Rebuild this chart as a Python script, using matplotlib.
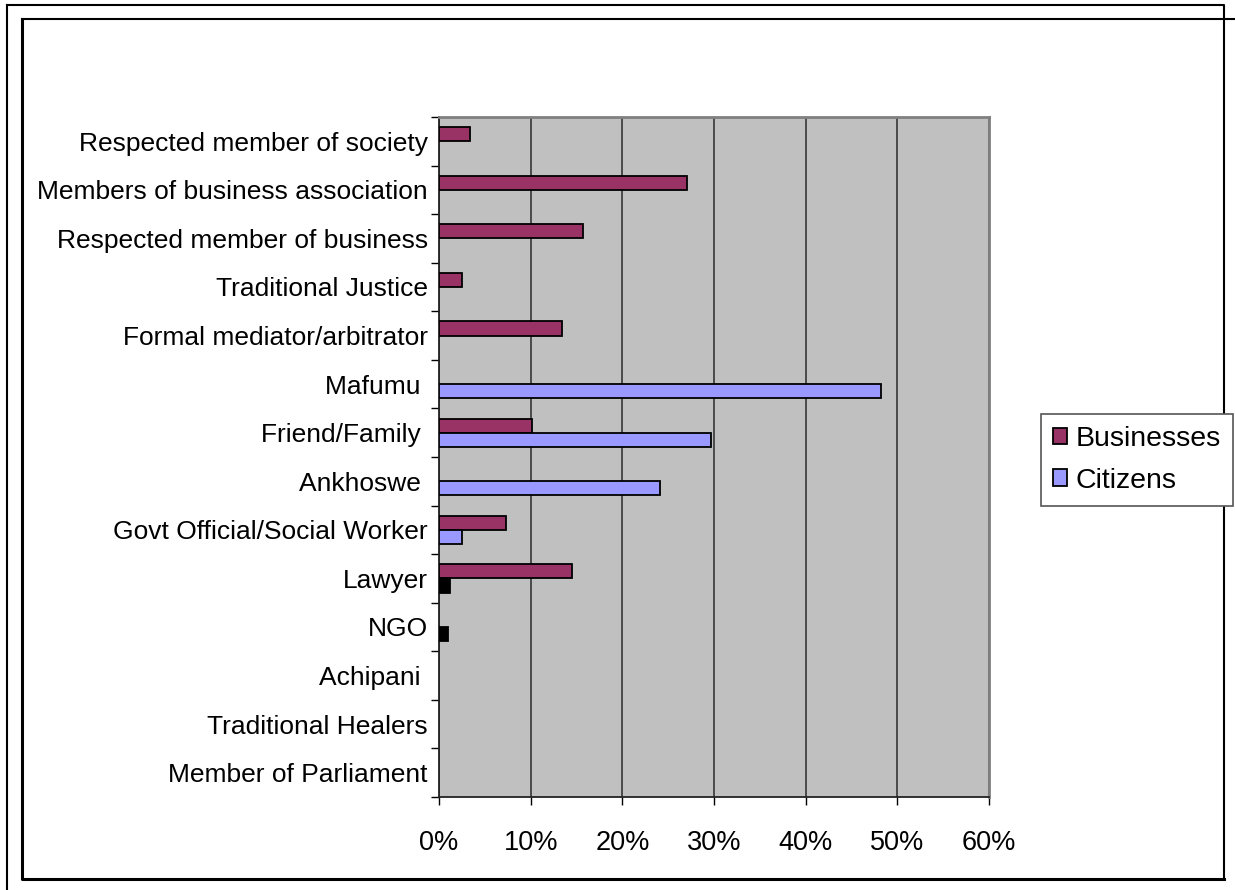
import numpy as np
import matplotlib
matplotlib.use("Agg")
import matplotlib.pyplot as plt
from matplotlib.lines import Line2D
from matplotlib.patches import Patch

plt.rcParams['font.family'] = ['Liberation Sans', 'DejaVu Sans']

# Who respondents turned to, share of businesses and citizens
categories = [
    "Respected member of society",
    "Members of business association",
    "Respected member of business",
    "Traditional Justice",
    "Formal mediator/arbitrator",
    "Mafumu ",
    "Friend/Family ",
    "Ankhoswe ",
    "Govt Official/Social Worker",
    "Lawyer",
    "NGO",
    "Achipani ",
    "Traditional Healers",
    "Member of Parliament",
]
businesses = [0.034, 0.270, 0.157, 0.025, 0.134, 0.0, 0.101, 0.0, 0.073, 0.145, 0.0, 0.0, 0.0, 0.0]
citizens = [0.0, 0.0, 0.0, 0.0, 0.0, 0.482, 0.297, 0.241, 0.025, 0.012, 0.010, 0.0, 0.0, 0.0]
x_ticks = [0.0, 0.1, 0.2, 0.3, 0.4, 0.5, 0.6]

W, H = 1235, 890
fig = plt.figure(figsize=(W / 100, H / 100), dpi=100)
ax = fig.add_axes([439 / W, 1 - 797 / H, 550 / W, 680 / H])
ax.set_facecolor('#C0C0C0')

pos = np.arange(len(categories))
bh = 0.29
biz_col = '#993366'
cit_col = '#9999FF'

biz_edges = ['black' if v > 0 else 'none' for v in businesses]
cit_edges = ['black' if v > 0 else 'none' for v in citizens]
# very thin citizen bars come out solid black
cit_faces = ['black' if 0 < v < 0.02 else cit_col for v in citizens]

ax.barh(pos - bh / 2, businesses, height=bh, color=biz_col,
        edgecolor=biz_edges, linewidth=1.3, zorder=3)
ax.barh(pos + bh / 2, citizens, height=bh, color=cit_faces,
        edgecolor=cit_edges, linewidth=1.3, zorder=3)

ax.set_xlim(0, 0.6)
ax.set_ylim(len(categories) - 0.5, -0.5)

ax.set_xticks(x_ticks)
ax.set_xticklabels([f"{t:.0%}" for t in x_ticks])
ax.xaxis.grid(True, color='#2a2a2a', linewidth=1.1, zorder=1)
ax.set_axisbelow(True)
ax.tick_params(axis='x', direction='out', length=6, width=1, colors='black',
               labelsize=19.5, pad=18)

ax.set_yticks(np.arange(len(categories) + 1) - 0.5)
ax.set_yticklabels([])
ax.set_yticks(pos, minor=True)
ax.set_yticklabels(categories, minor=True)
ax.tick_params(axis='y', which='major', direction='out', length=6, width=1)
ax.tick_params(axis='y', which='minor', length=0, pad=8, labelsize=19)

for side in ['left', 'bottom']:
    ax.spines[side].set_color('#222222')
    ax.spines[side].set_linewidth(1.3)
for side in ['top', 'right']:
    ax.spines[side].set_color('#808080')
    ax.spines[side].set_linewidth(2)

handles = [Patch(facecolor=biz_col, edgecolor='black', linewidth=1.3, label='Businesses'),
           Patch(facecolor=cit_col, edgecolor='black', linewidth=1.3, label='Citizens')]
leg = fig.legend(handles=handles, loc='upper left',
                 bbox_to_anchor=(1041 / W, 1 - 414 / H), fontsize=20.5,
                 handlelength=0.5, handleheight=0.5, handletextpad=0.3,
                 borderpad=0.42, labelspacing=0.55, borderaxespad=0,
                 fancybox=False, framealpha=1, edgecolor='#555555')
leg.get_frame().set_linewidth(1.2)


def px_line(xs, ys, lw):
    fig.add_artist(Line2D([x / W for x in xs], [1 - y / H for y in ys],
                          color='black', linewidth=lw, transform=fig.transFigure))


# double frame around the chart
px_line([7, 1224, 1224], [5, 5, 879], 1.5)
px_line([7, 7], [5, 890], 1.5)
px_line([22, 1235], [19, 19], 1.5)
px_line([22, 22, 1224], [19, 879, 879], 2.2)

fig.savefig('out.png', dpi=100)
